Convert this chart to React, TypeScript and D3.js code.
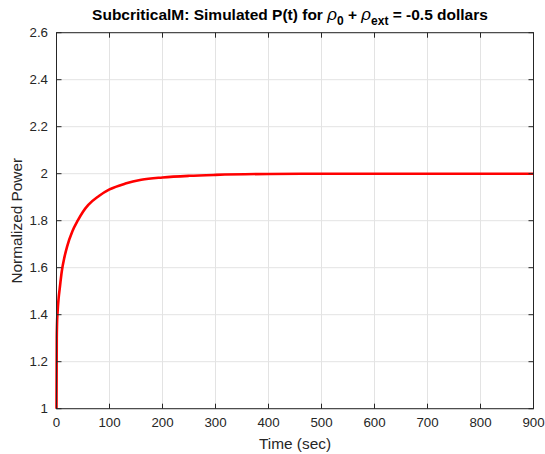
import React, { useEffect, useRef } from 'react';
import * as d3 from 'd3';

// simulated power response
const timeSec = [0, 0.5, 1, 2, 4, 6, 10, 15, 20, 30, 40, 50, 60, 80, 100, 130, 160, 200, 250, 300, 400, 500, 600, 700, 800, 900];
const power = [1, 1.3, 1.36, 1.41, 1.47, 1.51, 1.585, 1.645, 1.69, 1.755, 1.8, 1.838, 1.867, 1.905, 1.933, 1.958, 1.974, 1.984, 1.991, 1.995, 1.999, 2, 2, 2, 2, 2];
const xTicks = [0, 100, 200, 300, 400, 500, 600, 700, 800, 900];
const yTicks = [1, 1.2, 1.4, 1.6, 1.8, 2, 2.2, 2.4, 2.6];

const W = 545,
	H = 454,
	margin = { left: 56.5, right: 11.5, top: 32.7, bottom: 45.3 };

const App = () => {
	const ref = useRef<SVGGElement>(null);

	useEffect(() => {
		const g = d3.select(ref.current);
		g.selectAll('*').remove();

		const iw = W - margin.left - margin.right,
			ih = H - margin.top - margin.bottom,
			x = d3.scaleLinear().domain([0, 900]).range([0, iw]),
			y = d3.scaleLinear().domain([1, 2.6]).range([ih, 0]),
			font = '"Liberation Sans", Arial, sans-serif',
			txt = '#262626';

		// grid
		g.append('g')
			.selectAll('line')
			.data(xTicks)
			.join('line')
			.attr('x1', (d) => x(d))
			.attr('x2', (d) => x(d))
			.attr('y1', 0)
			.attr('y2', ih)
			.attr('stroke', '#e3e3e3');
		g.append('g')
			.selectAll('line')
			.data(yTicks)
			.join('line')
			.attr('x1', 0)
			.attr('x2', iw)
			.attr('y1', (d) => y(d))
			.attr('y2', (d) => y(d))
			.attr('stroke', '#e3e3e3');

		// curve
		const pts = timeSec.map((t, i) => [t, power[i]] as [number, number]);
		const line = d3
			.line<[number, number]>()
			.x((d) => x(d[0]))
			.y((d) => y(d[1]))
			.curve(d3.curveMonotoneX);
		g.append('path')
			.attr('d', line(pts))
			.attr('fill', 'none')
			.attr('stroke', '#ff0000')
			.attr('stroke-width', 2.6);

		// box + ticks
		g.append('rect')
			.attr('width', iw)
			.attr('height', ih)
			.attr('fill', 'none')
			.attr('stroke', '#262626')
			.attr('stroke-width', 1);
		const tk = 5;
		xTicks.forEach((d) => {
			g.append('line').attr('x1', x(d)).attr('x2', x(d)).attr('y1', ih).attr('y2', ih - tk).attr('stroke', '#262626');
			g.append('line').attr('x1', x(d)).attr('x2', x(d)).attr('y1', 0).attr('y2', tk).attr('stroke', '#262626');
		});
		yTicks.forEach((d) => {
			g.append('line').attr('x1', 0).attr('x2', tk).attr('y1', y(d)).attr('y2', y(d)).attr('stroke', '#262626');
			g.append('line').attr('x1', iw).attr('x2', iw - tk).attr('y1', y(d)).attr('y2', y(d)).attr('stroke', '#262626');
		});

		// tick labels
		g.append('g')
			.selectAll('text')
			.data(xTicks)
			.join('text')
			.attr('x', (d) => x(d))
			.attr('y', ih + 18.5)
			.attr('text-anchor', 'middle')
			.style('font-family', font)
			.style('font-size', '13.3px')
			.attr('fill', txt)
			.text((d) => d3.format('d')(d));
		g.append('g')
			.selectAll('text')
			.data(yTicks)
			.join('text')
			.attr('x', -8.5)
			.attr('y', (d) => y(d) + 4.5)
			.attr('text-anchor', 'end')
			.style('font-family', font)
			.style('font-size', '13.3px')
			.attr('fill', txt)
			.text((d) => d3.format('~g')(d));

		// axis labels
		g.append('text')
			.attr('x', iw / 2)
			.attr('y', ih + 40)
			.attr('text-anchor', 'middle')
			.style('font-family', font)
			.style('font-size', '15.4px')
			.attr('fill', txt)
			.text('Time (sec)');
		g.append('text')
			.attr('transform', `translate(${-35},${ih / 2}) rotate(-90)`)
			.attr('text-anchor', 'middle')
			.style('font-family', font)
			.style('font-size', '15.4px')
			.attr('fill', txt)
			.text('Normalized Power');

		// title with subscripts
		const title = g
			.append('text')
			.attr('x', iw / 2 - 5)
			.attr('y', -13)
			.attr('text-anchor', 'middle')
			.style('font-family', font)
			.style('font-size', '15.5px')
			.style('font-weight', 'bold')
			.attr('fill', '#000');
		title.append('tspan').text('SubcriticalM: Simulated P(t) for ');
		title.append('tspan').style('font-style', 'italic').style('font-weight', 'normal').style('font-size', '17px').text('ρ');
		title.append('tspan').attr('dy', 5.5).style('font-size', '12px').text('0');
		title.append('tspan').attr('dy', -5.5).text(' + ');
		title.append('tspan').style('font-style', 'italic').style('font-weight', 'normal').style('font-size', '17px').text('ρ');
		title.append('tspan').attr('dy', 5.5).style('font-size', '12px').text('ext');
		title.append('tspan').attr('dy', -5.5).text(' = -0.5 dollars');
	}, []);

	return (
		<svg width={W} height={H} style={{ position: 'absolute', left: 0, top: 0, background: '#fff' }}>
			<g ref={ref} transform={`translate(${margin.left},${margin.top})`} />
		</svg>
	);
};

export default App;
